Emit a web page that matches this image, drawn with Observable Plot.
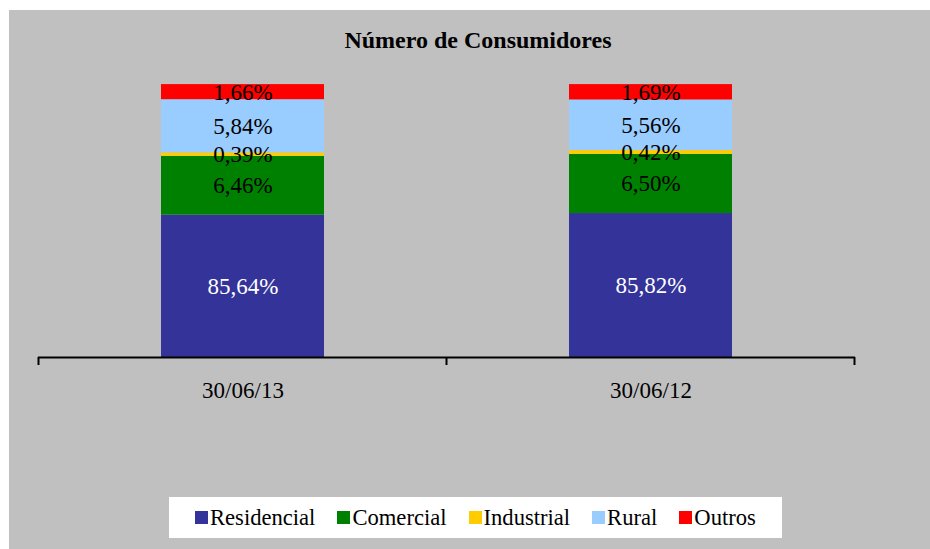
<!DOCTYPE html>
<html>
<head>
<meta charset="utf-8">
<script src="https://cdn.jsdelivr.net/npm/d3@7"></script>
<script src="https://cdn.jsdelivr.net/npm/@observablehq/plot@0.6"></script>
<style>
  html, body { margin: 0; padding: 0; background: #ffffff; overflow: hidden; width: 930px; height: 549px; }
  #panel { position: absolute; left: 9px; top: 10px; width: 938px; height: 560px; background: #c0c0c0; font-family: "Liberation Serif", "Times New Roman", serif; }
  #title { position: absolute; left: 0; top: 17px; width: 100%; text-align: center; font-weight: bold; font-size: 24px; color: #000; }
  #chart { position: absolute; left: 0; top: 50px; }
  #legend { position: absolute; left: 160px; top: 487px; width: 613px; height: 41px; background: #fff; display: flex; align-items: center; padding-left: 26px; box-sizing: border-box; font-size: 22.6px; color: #000; }
  .item { display: flex; align-items: center; margin-right: 22px; }
  .sw { width: 13px; height: 13px; margin-right: 2px; }
</style>
</head>
<body>
<div id="panel">
  <div id="title">Número de Consumidores</div>
  <div id="chart"></div>
  <div id="legend"></div>
</div>
<script>
const dates = ["30/06/13", "30/06/12"];
const types = ["Residencial", "Comercial", "Industrial", "Rural", "Outros"];
const colors = ["#333399", "#008000", "#FFCC00", "#99CCFF", "#FF0000"];
const residencial = [85.64, 85.82];
const comercial = [6.46, 6.50];
const industrial = [0.39, 0.42];
const rural = [5.84, 5.56];
const outros = [1.66, 1.69];
const yDomain = [70, 100]; // value axis starts at 70%

const series = [residencial, comercial, industrial, rural, outros];
const data = [];
dates.forEach((d, i) => {
  let acc = 0;
  types.forEach((t, j) => {
    const v = series[j][i];
    data.push({date: d, type: t, value: v, y1: acc, y2: acc + v});
    acc += v;
  });
});

const fmt = v => v.toFixed(2).replace(".", ",") + "%";

const chart = Plot.plot({
  width: 938,
  height: 360,
  marginLeft: 29,
  marginRight: 92,
  marginTop: 24,
  marginBottom: 63,
  style: {background: "transparent", fontFamily: "Liberation Serif, Times New Roman, serif", fontSize: "23px", color: "#000"},
  x: {domain: dates, paddingInner: 0.6, paddingOuter: 0.3, label: null},
  y: {domain: yDomain, axis: null},
  color: {domain: types, range: colors},
  marks: [
    Plot.barY(data, {x: "date", y1: "y1", y2: "y2", fill: "type", clip: true}),
    Plot.text(data, {x: "date", y: d => (Math.max(d.y1, yDomain[0]) + d.y2) / 2, text: d => fmt(d.value), fill: d => d.type === "Residencial" ? "#ffffff" : "#000000", fontSize: 23}),
    Plot.ruleY([yDomain[0]], {stroke: "#000", strokeWidth: 2}),
    Plot.axisX({tickSize: 0, tickPadding: 24, fontSize: 23, label: null})
  ]
});
document.getElementById("chart").appendChild(chart);

// category boundary tick marks
const xs = chart.scale("x");
const ys = chart.scale("y");
const centers = dates.map(d => xs.apply(d) + xs.bandwidth / 2);
const bounds = centers.map(c => c - xs.step / 2).concat([centers[centers.length - 1] + xs.step / 2]);
const y0 = ys.apply(yDomain[0]);
d3.select(chart).append("g")
  .selectAll("line").data(bounds).join("line")
  .attr("x1", d => d).attr("x2", d => d)
  .attr("y1", y0).attr("y2", y0 + 8)
  .attr("stroke", "#000").attr("stroke-width", 2);

const legend = d3.select("#legend");
types.forEach((t, i) => {
  const it = legend.append("div").attr("class", "item");
  it.append("div").attr("class", "sw").style("background", colors[i]);
  it.append("span").text(t);
});
</script>
</body>
</html>
